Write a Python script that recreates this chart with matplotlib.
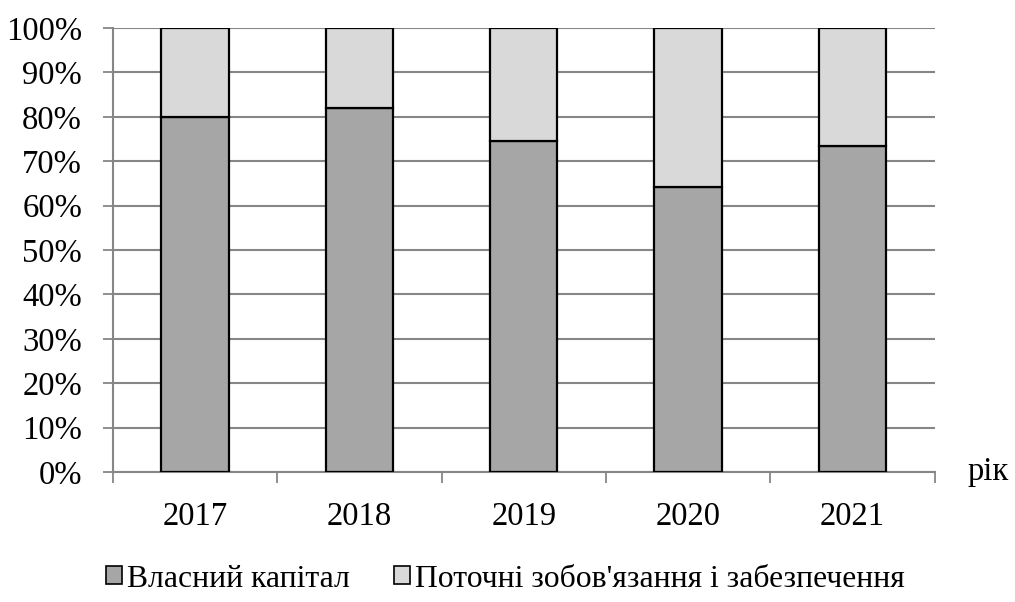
import numpy as np
import matplotlib.pyplot as plt
from matplotlib.patches import Patch
from matplotlib.ticker import FixedLocator, PercentFormatter

years = ['2017', '2018', '2019', '2020', '2021']
own_capital = [80.0, 82.0, 74.6, 64.2, 73.4]
liabilities = [100 - v for v in own_capital]
series_names = ['Власний капітал', 'Поточні зобов\'язання і забезпечення']

plt.rcParams['font.family'] = ['Liberation Serif', 'DejaVu Serif']

fig = plt.figure(figsize=(10.15, 6.02), dpi=100)
ax = fig.add_axes([0.111, 0.216, 0.810, 0.7375])

grid_c = '#868686'
x = np.arange(len(years))
ax.bar(x, own_capital, width=0.41, color='#a6a6a6', edgecolor='black', linewidth=1.6, zorder=3)
ax.bar(x, liabilities, width=0.41, bottom=own_capital, color='#d9d9d9', edgecolor='black', linewidth=1.6, zorder=3)

ax.set_xlim(-0.5, len(years) - 0.5)
ax.set_ylim(0, 100)
ax.set_yticks(np.arange(0, 101, 10))
ax.yaxis.set_major_formatter(PercentFormatter(decimals=0))
ax.yaxis.grid(True, color=grid_c, linewidth=1.5, zorder=0)

ax.set_xticks(x)
ax.set_xticklabels(years)
ax.xaxis.set_minor_locator(FixedLocator(np.arange(-0.5, len(years), 1)))
ax.tick_params(axis='x', which='major', length=0, pad=21, labelsize=23.5)
ax.tick_params(axis='x', which='minor', length=8, width=1.3, color=grid_c)
ax.tick_params(axis='y', length=7, width=1.3, color=grid_c, labelsize=23.5, pad=15)

for s in ['top', 'right']:
    ax.spines[s].set_visible(False)
for s in ['left', 'bottom']:
    ax.spines[s].set_color(grid_c)
    ax.spines[s].set_linewidth(1.5)

ax.text(1.04, 0, 'рік', transform=ax.transAxes, fontsize=23.5, va='center', ha='left')

handles = [Patch(facecolor='#a6a6a6', edgecolor='black', linewidth=1.2),
           Patch(facecolor='#d9d9d9', edgecolor='black', linewidth=1.2)]
fig.legend(handles, series_names, loc='center', bbox_to_anchor=(0.498, 0.038), ncol=2,
           frameon=False, fontsize=22.8, handlelength=0.5, handleheight=0.5,
           handletextpad=0.15, columnspacing=1.4)

plt.savefig('out.png', dpi=100)
